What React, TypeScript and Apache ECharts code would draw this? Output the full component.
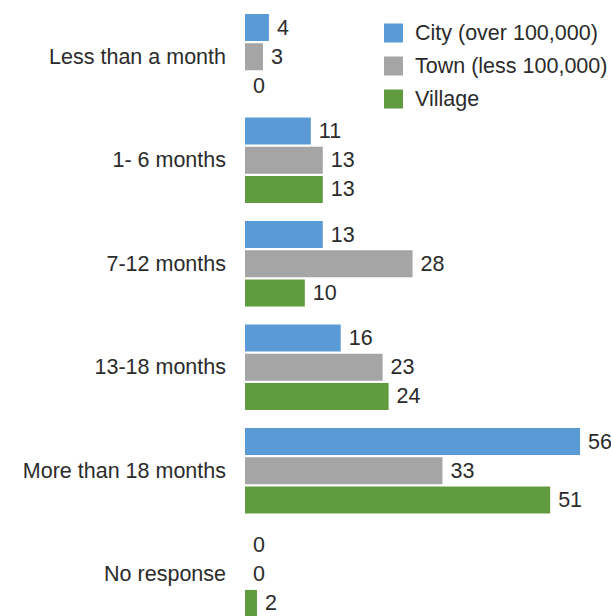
import React, { useEffect, useRef } from "react";
import * as echarts from "echarts";

const categories = [
  "Less than a month",
  "1- 6 months",
  "7-12 months",
  "13-18 months",
  "More than 18 months",
  "No response",
];
const seriesNames = ["City (over 100,000)", "Town (less 100,000)", "Village"];
const cityValues = [4, 11, 13, 16, 56, 0];
const townValues = [3, 13, 28, 23, 33, 0];
const villageValues = [0, 13, 10, 24, 51, 2];
const colors = ["#5B9BD5", "#A5A5A5", "#619B40"];

const FONT = "'Liberation Sans', Arial, sans-serif";
const TEXT = "#2b2b2b";
const FS = 21.5;

export default function App() {
  const ref = useRef<HTMLDivElement>(null);
  useEffect(() => {
    if (!ref.current) return;
    const chart = echarts.init(ref.current, undefined, { renderer: "svg" });
    const values = [cityValues, townValues, villageValues];
    chart.setOption({
      animation: false,
      textStyle: { fontFamily: FONT },
      grid: { left: 245, right: 7, top: 5, bottom: 4, containLabel: false },
      legend: {
        orient: "vertical",
        left: 384,
        top: 22,
        padding: 0,
        itemWidth: 19,
        itemHeight: 19,
        itemGap: 11,
        icon: "rect",
        data: seriesNames,
        textStyle: {
          fontFamily: FONT,
          fontSize: FS,
          color: TEXT,
          lineHeight: 19,
          padding: [0, 0, 0, 7],
        },
      },
      xAxis: {
        type: "value",
        min: 0,
        max: 60,
        show: false,
        splitLine: { show: false },
      },
      yAxis: {
        type: "category",
        data: categories,
        inverse: true,
        axisLine: { show: false },
        axisTick: { show: false },
        axisLabel: {
          fontFamily: FONT,
          fontSize: FS,
          color: TEXT,
          margin: 19,
        },
      },
      series: seriesNames.map((name, i) => ({
        name,
        type: "bar",
        data: values[i],
        barWidth: 27,
        barGap: "8%",
        itemStyle: { color: colors[i] },
        label: {
          show: true,
          position: "right",
          distance: 8,
          fontFamily: FONT,
          fontSize: FS,
          color: TEXT,
        },
      })),
    });
    return () => chart.dispose();
  }, []);
  return (
    <div
      style={{
        position: "absolute",
        left: 0,
        top: 0,
        width: 611,
        height: 616,
        overflow: "hidden",
        background: "#fff",
      }}
    >
      <div ref={ref} style={{ width: 611, height: 630 }} />
    </div>
  );
}
